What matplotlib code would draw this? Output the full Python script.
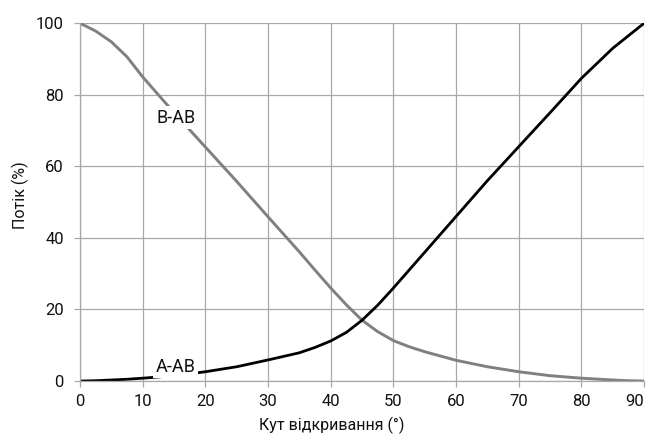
import matplotlib
matplotlib.use("Agg")
import matplotlib.pyplot as plt

# Opening angle (degrees) and flow through each port (%)
angle = [0, 2.5, 5, 7.5, 10, 15, 20, 25, 30, 35, 37.5, 40, 42.5, 45, 47.5, 50,
         52.5, 55, 60, 65, 70, 75, 80, 85, 87.5, 90]
flow_a_ab = [0, 0.1, 0.3, 0.5, 0.8, 1.5, 2.6, 4.0, 5.9, 7.9, 9.4, 11.2, 13.6, 17.0,
             21.2, 26.0, 31.0, 36.0, 46, 56, 65.5, 75, 84.6, 93, 96.5, 100]
flow_b_ab = [100, 97.8, 94.8, 90.6, 85.0, 75.0, 65.4, 55.8, 45.9, 36.1, 31.0, 26.0,
             21.3, 17.0, 13.8, 11.3, 9.6, 8.2, 5.8, 4.0, 2.6, 1.5, 0.8, 0.3, 0.1, 0]

x_ticks = [0, 10, 20, 30, 40, 50, 60, 70, 80, 90]
y_ticks = [0, 20, 40, 60, 80, 100]

plt.rcParams["font.family"] = ["Roboto", "DejaVu Sans"]

fig = plt.figure(figsize=(6.5, 4.37), dpi=100)
ax = fig.add_axes([0.123, 0.128, 0.868, 0.819])

grid_col = "#a8a8a8"
text_col = "#111111"
ax.plot(angle, flow_b_ab, color="#808080", lw=2.1, zorder=2,
        solid_capstyle="butt", solid_joinstyle="round")
ax.plot(angle, flow_a_ab, color="black", lw=2.0, zorder=2.05,
        solid_capstyle="butt", solid_joinstyle="round")

label_box = dict(facecolor="white", edgecolor="none", pad=2.0)
ax.text(15.3, 73.6, "B-AB", fontsize=13, color=text_col, ha="center",
        va="center", bbox=label_box, zorder=2.2)
ax.text(15.2, 4.0, "A-AB", fontsize=13, color=text_col, ha="center",
        va="center", bbox=label_box, zorder=2.2)

ax.set_xlim(0, 90)
ax.set_ylim(0, 100)
ax.set_xticks(x_ticks)
ax.set_yticks(y_ticks)
ax.grid(True, color=grid_col, lw=0.9, zorder=1)
ax.set_axisbelow(True)
for side in ["top", "right"]:
    ax.spines[side].set_visible(False)
for side in ["left", "bottom"]:
    ax.spines[side].set_color(grid_col)
    ax.spines[side].set_linewidth(0.9)
ax.tick_params(axis="both", colors=grid_col, labelcolor=text_col,
               labelsize=12, length=4.5, width=0.9)
ax.tick_params(axis="y", pad=7)
ax.tick_params(axis="x", pad=5)
last = ax.get_xticklabels()[-1]
last.set_horizontalalignment("right")
last.set_x(90)

ax.set_xlabel("Кут відкривання (°)", fontsize=11.5, color=text_col)
ax.set_ylabel("Потік (%)", fontsize=11.5, color=text_col)
ax.xaxis.set_label_coords(0.447, -0.10)
ax.yaxis.set_label_coords(-0.091, 0.52)

fig.savefig("out.png", dpi=100, facecolor="white")
